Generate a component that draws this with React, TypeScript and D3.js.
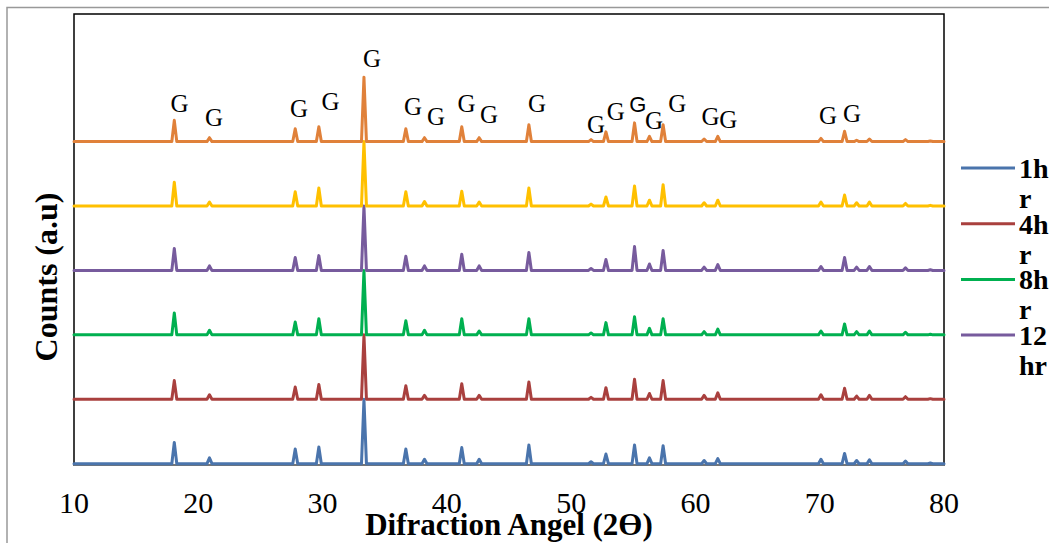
import React from 'react';
import * as d3 from 'd3';

// 2θ positions of the diffraction peaks (degrees)
const PEAK_POS = [18.07, 20.9, 27.8, 29.7, 33.33, 36.7, 38.2, 41.2, 42.6, 46.6, 51.6, 52.8, 55.1, 56.3, 57.4, 60.7, 61.8, 70.1, 72.0, 72.97, 74.0, 76.9, 78.9];

// relative peak intensities per pattern (main peak = 100)
const HR1 = [33, 9, 23, 26, 100, 23, 7, 25, 7, 29, 3, 15, 29, 9, 28, 5, 8, 7, 16, 5, 6, 4, 1];
const HR4 = [29, 7, 19, 23, 100, 21, 6, 24, 6, 27, 3, 18, 31, 9, 29, 6, 10, 7, 17, 5, 6, 4, 1];
const HR8 = [34, 7, 20, 25, 100, 22, 7, 25, 6, 25, 3, 19, 28, 10, 25, 5, 9, 6, 17, 5, 6, 4, 1];
const HR12 = [34, 7, 20, 23, 100, 22, 7, 25, 7, 28, 3, 17, 37, 10, 31, 5, 9, 6, 20, 5, 6, 4, 1];
const S5 = [37, 6, 22, 28, 100, 22, 7, 23, 6, 28, 3, 14, 31, 9, 33, 5, 9, 6, 17, 5, 6, 4, 1];
const S6 = [33, 6, 20, 23, 100, 20, 6, 23, 6, 26, 3, 15, 29, 8, 26, 4, 8, 5, 16, 2, 4, 3, 1];

const SERIES_NAMES = ['1hr', '4hr', '8hr', '12hr', '', ''];
const SERIES_VALUES = [HR1, HR4, HR8, HR12, S5, S6];
const SERIES_OFFSETS = [2, 102, 202, 302, 402, 502];
const SERIES_COLORS = ['#4A74AC', '#A9403E', '#00B050', '#775B9D', '#FFC000', '#E0813A'];

// legend labels as they wrap in the original
const LEGEND_LINES = [['1h', 'r'], ['4h', 'r'], ['8h', 'r'], ['12', 'hr']];

const X_TICKS = [10, 20, 30, 40, 50, 60, 70, 80];

// "G" phase annotations: [2θ, y (a.u.), sans]
const G_LABELS: [number, number, boolean][] = [
  [18.49, 548.6, false], [21.26, 526.4, false], [28.1, 540.4, false], [30.65, 551, false],
  [33.97, 617.5, false], [37.27, 543.5, false], [39.12, 528, false], [41.59, 548.6, false],
  [43.39, 531.5, false], [47.25, 548.6, false], [52.0, 515.5, false], [53.6, 535.7, false],
  [55.37, 548.6, true], [56.66, 521.7, false], [58.54, 548.6, false], [61.22, 528, false],
  [62.64, 522.8, false], [70.66, 529.5, false], [72.61, 533, false],
];

const SERIF = '"Liberation Serif", "Times New Roman", serif';

export default function App() {
  const W = 1049, H = 543;
  const x = d3.scaleLinear().domain([10, 80]).range([74, 944]);
  const y = d3.scaleLinear().domain([0, 700]).range([465, 14]);
  const HALF = 0.2;

  const line = d3.line<[number, number]>().x(d => x(d[0])).y(d => y(d[1]));

  const paths = SERIES_VALUES.map((vals, i) => {
    const off = SERIES_OFFSETS[i];
    const pts: [number, number][] = [[10, off]];
    PEAK_POS.forEach((p, k) => {
      pts.push([p - HALF, off]);
      pts.push([p, off + vals[k]]);
      pts.push([p + HALF, off]);
    });
    pts.push([80, off]);
    return line(pts) as string;
  });

  const [x0, x1] = x.range();
  const [yb, yt] = y.range();

  return (
    <div style={{ position: 'absolute', left: 0, top: 0 }}>
      <svg width={W} height={H} style={{ display: 'block', background: '#fff' }}>
        <rect x={7} y={7.5} width={W + 20} height={H + 20} fill="#fff" stroke="#999" strokeWidth={1.5} />
        <rect x={x0} y={yt} width={x1 - x0} height={yb - yt} fill="none" stroke="#000" strokeWidth={1.5} />
        <line x1={x0} x2={x1} y1={yb} y2={yb} stroke="#888" strokeWidth={1.5} />
        {paths.map((d, i) => (
          <path key={i} d={d} fill="none" stroke={SERIES_COLORS[i]} strokeWidth={3}
            strokeLinejoin="round" strokeLinecap="round" />
        ))}
        {G_LABELS.map(([gx, gy, sans], i) => (
          <text key={i} x={x(gx)} y={y(gy)} textAnchor="middle"
            fontFamily={sans ? '"Liberation Sans", Arial, sans-serif' : SERIF}
            fontSize={sans ? 22 : 25} fill="#000">G</text>
        ))}
        {X_TICKS.map(t => (
          <text key={t} x={x(t)} y={513} textAnchor="middle" fontFamily={SERIF} fontSize={30} fill="#000">{t}</text>
        ))}
        <text x={(x0 + x1) / 2} y={535} textAnchor="middle" fontFamily={SERIF} fontSize={31} fontWeight="bold" fill="#000">
          Difraction Angel (2Ө)
        </text>
        <text transform={`translate(57,277) rotate(-90)`} textAnchor="middle" fontFamily={SERIF} fontSize={32} fontWeight="bold" fill="#000">
          Counts (a.u)
        </text>
        {LEGEND_LINES.map((ln, i) => {
          const ly = 168 + i * 55.7;
          return (
            <g key={i}>
              <line x1={961} x2={1015} y1={ly} y2={ly} stroke={SERIES_COLORS[i]} strokeWidth={3} />
              <text x={1019} y={ly + 10} fontFamily={SERIF} fontSize={28} fontWeight="bold" fill="#000">
                <tspan x={1019}>{ln[0]}</tspan>
                <tspan x={1019} dy={30}>{ln[1]}</tspan>
              </text>
            </g>
          );
        })}
      </svg>
    </div>
  );
}
